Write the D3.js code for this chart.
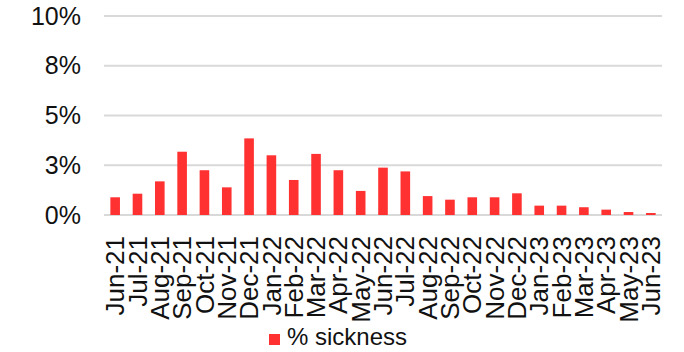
<!DOCTYPE html>
<html>
<head>
<meta charset="utf-8">
<script src="https://cdn.jsdelivr.net/npm/d3@7"></script>
<style>
  html, body { margin: 0; padding: 0; background: #fff; }
  svg { display: block; }
  text { font-family: "Liberation Sans", Arial, sans-serif; fill: #111; }
</style>
</head>
<body>
<div id="chart"></div>
<script>
const categories = ["Jun-21","Jul-21","Aug-21","Sep-21","Oct-21","Nov-21","Dec-21",
  "Jan-22","Feb-22","Mar-22","Apr-22","May-22","Jun-22","Jul-22","Aug-22","Sep-22",
  "Oct-22","Nov-22","Dec-22","Jan-23","Feb-23","Mar-23","Apr-23","May-23","Jun-23"];
const sickness = [0.89,1.07,1.69,3.18,2.25,1.39,3.85,3.0,1.76,3.07,2.25,1.21,2.38,
  2.19,0.95,0.77,0.89,0.89,1.09,0.47,0.47,0.39,0.27,0.15,0.10];
const tickValues = [0, 2.5, 5, 7.5, 10];
const tickLabels = ["0%", "3%", "5%", "8%", "10%"];
const seriesName = "% sickness";

const W = 684, H = 352;
const svg = d3.select("#chart").append("svg").attr("width", W).attr("height", H);

const x = d3.scaleBand().domain(categories).range([104, 662]).paddingInner(0.57).paddingOuter(0.285);
const y = d3.scaleLinear().domain([0, 10]).range([215, 16]);

// gridlines
svg.append("g").selectAll("line").data(tickValues).join("line")
  .attr("x1", 104).attr("x2", 662)
  .attr("y1", d => y(d)).attr("y2", d => y(d))
  .attr("stroke", "#d9d9d9").attr("stroke-width", 2);

// y axis labels
const yAxis = d3.axisLeft(y).tickValues(tickValues)
  .tickFormat((d, i) => tickLabels[i]).tickSize(0).tickPadding(0);
const gy = svg.append("g").attr("transform", "translate(81,0)").call(yAxis);
gy.select(".domain").remove();
gy.selectAll("text").attr("font-size", 25).attr("fill", "#111")
  .attr("font-family", "'Liberation Sans', Arial, sans-serif");

// bars
svg.append("g").selectAll("rect").data(sickness).join("rect")
  .attr("x", (d, i) => x(categories[i]))
  .attr("width", x.bandwidth())
  .attr("y", d => y(d))
  .attr("height", d => y(0) - y(d))
  .attr("fill", "#ff3131");

// x axis labels
const xAxis = d3.axisBottom(x).tickSize(0).tickPadding(0);
const gx = svg.append("g").attr("transform", "translate(0,236)").call(xAxis);
gx.select(".domain").remove();
gx.selectAll("text")
  .attr("font-size", 26).attr("fill", "#111")
  .attr("font-family", "'Liberation Sans', Arial, sans-serif")
  .attr("text-anchor", "end")
  .attr("transform", "rotate(-90)")
  .attr("x", 0).attr("y", 0).attr("dy", "0.35em");

// legend
const lg = svg.append("g");
lg.append("rect").attr("x", 269).attr("y", 334).attr("width", 11).attr("height", 11).attr("fill", "#ff3131");
lg.append("text").attr("x", 287).attr("y", 345).attr("font-size", 24).text(seriesName);
</script>
</body>
</html>
